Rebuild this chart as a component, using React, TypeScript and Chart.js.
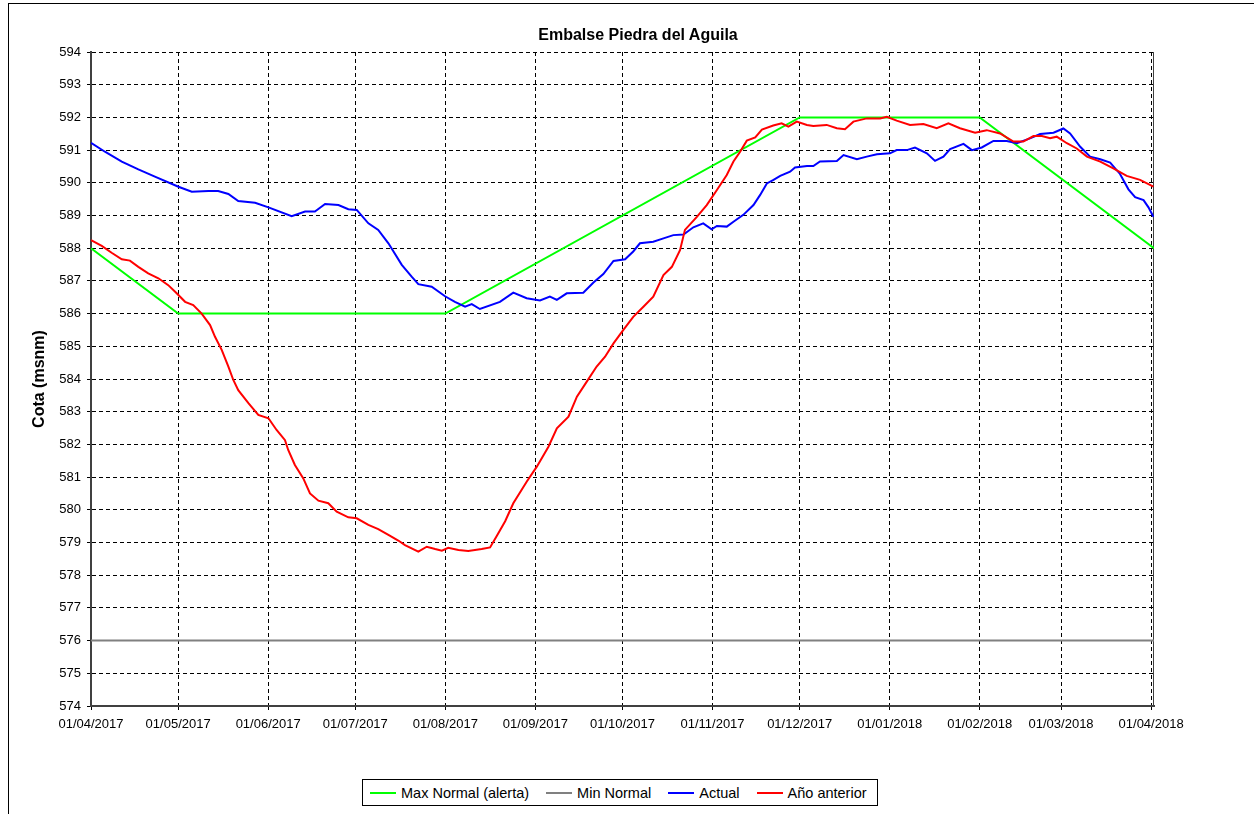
import React, { useEffect, useRef } from "react";
import { Chart, registerables } from "chart.js";

Chart.register(...registerables);

const FONT = '"Liberation Sans", Arial, Helvetica, sans-serif';

// Day index (0 = 01/04/2017) of each month tick and its label
const monthDays = [0, 30, 61, 91, 122, 153, 183, 214, 244, 275, 306, 334, 365];
const monthLabels = [
  "01/04/2017", "01/05/2017", "01/06/2017", "01/07/2017", "01/08/2017", "01/09/2017",
  "01/10/2017", "01/11/2017", "01/12/2017", "01/01/2018", "01/02/2018", "01/03/2018", "01/04/2018",
];

// Max Normal (alerta)
const maxNormalDays = [0, 30, 122, 244, 306, 366];
const maxNormalLevels = [588, 586, 586, 592, 592, 588];

// Min Normal
const minNormalDays = [0, 366];
const minNormalLevels = [576, 576];

// Actual
const actualDays = [
  0, 4.8, 10.6, 16.3, 22.0, 30.1, 34.7, 40.4, 43.8, 47.3, 50.7, 56.5, 61.1, 69.1, 73.7, 77.1, 80.6, 85.2,
  88.6, 91.5, 95.5, 98.9, 102.4, 107.0, 110.4, 112.7, 117.3, 121.9, 125.3, 128.8, 131.1, 133.9, 140.8,
  145.4, 150.0, 154.6, 158.0, 160.4, 163.8, 169.5, 173.0, 176.4, 179.9, 183.9, 186.7, 189.0, 193.6,
  197.1, 200.5, 204.0, 207.4, 210.8, 213.7, 215.5, 218.9, 221.2, 224.6, 228.1, 230.4, 232.7, 235.0,
  237.3, 240.7, 242.4, 246.5, 248.7, 251.0, 256.8, 259.1, 263.7, 267.1, 270.6, 275.1, 277.4, 280.9,
  283.7, 287.8, 290.6, 293.5, 295.8, 300.4, 303.3, 306.7, 310.7, 315.3, 318.8, 323.3, 326.8, 331.4,
  334.8, 337.1, 340.6, 344.0, 347.5, 350.9, 354.3, 357.2, 359.5, 362.4, 364.1, 365.8,
];
const actualLevels = [
  591.22, 590.95, 590.65, 590.41, 590.19, 589.88, 589.73, 589.75, 589.75, 589.66, 589.44, 589.39, 589.25,
  588.98, 589.12, 589.12, 589.35, 589.32, 589.19, 589.17, 588.76, 588.56, 588.15, 587.49, 587.13, 586.9,
  586.82, 586.53, 586.36, 586.21, 586.29, 586.14, 586.36, 586.64, 586.47, 586.4, 586.52, 586.42, 586.62,
  586.64, 586.95, 587.21, 587.61, 587.66, 587.9, 588.15, 588.2, 588.3, 588.4, 588.42, 588.64, 588.76,
  588.58, 588.68, 588.66, 588.81, 589.02, 589.32, 589.63, 589.98, 590.09, 590.21, 590.34, 590.47, 590.51,
  590.51, 590.65, 590.67, 590.85, 590.72, 590.8, 590.87, 590.9, 591.0, 591.0, 591.08, 590.9, 590.67,
  590.8, 591.03, 591.19, 591.0, 591.08, 591.28, 591.28, 591.21, 591.36, 591.49, 591.53, 591.66, 591.51,
  591.1, 590.8, 590.72, 590.62, 590.27, 589.8, 589.56, 589.47, 589.25, 588.96,
];

// Año anterior
const previousDays = [
  0, 3.7, 7.1, 10.6, 13.4, 16.3, 19.7, 23.2, 26.6, 29.5, 32.4, 35.2, 38.1, 41.0, 42.7, 45.0, 47.3, 49.0,
  50.7, 54.2, 57.6, 61.1, 63.9, 66.8, 67.9, 70.2, 73.1, 75.4, 78.3, 81.7, 84.6, 88.6, 91.5, 95.5, 98.9,
  102.4, 105.8, 108.1, 112.7, 115.6, 118.5, 120.8, 123.0, 126.5, 129.9, 134.5, 137.4, 139.7, 142.6,
  145.4, 150.0, 153.5, 157.5, 160.4, 164.4, 167.3, 170.7, 174.1, 177.0, 179.9, 183.3, 186.7, 190.2,
  193.6, 197.1, 200.0, 202.8, 204.5, 208.6, 212.0, 215.5, 218.9, 221.2, 223.5, 225.8, 228.7, 231.0,
  234.9, 237.8, 240.1, 243.0, 246.5, 248.7, 253.3, 256.8, 259.6, 262.5, 267.1, 271.7, 274.0, 277.4,
  282.0, 286.6, 291.2, 295.2, 299.2, 304.4, 308.4, 313.0, 317.6, 321.0, 324.5, 327.4, 330.2, 332.5,
  336.0, 339.4, 342.9, 347.5, 352.0, 356.6, 361.2, 365.8,
];
const previousLevels = [
  588.25, 588.07, 587.86, 587.66, 587.62, 587.43, 587.23, 587.08, 586.87, 586.62, 586.36, 586.26, 586.0,
  585.65, 585.29, 584.89, 584.38, 583.97, 583.66, 583.26, 582.9, 582.8, 582.44, 582.13, 581.83, 581.37,
  580.96, 580.5, 580.28, 580.2, 579.94, 579.77, 579.74, 579.54, 579.41, 579.23, 579.06, 578.92, 578.72,
  578.87, 578.8, 578.75, 578.84, 578.77, 578.74, 578.8, 578.85, 579.2, 579.65, 580.2, 580.86, 581.32,
  581.93, 582.49, 582.85, 583.46, 583.92, 584.38, 584.68, 585.09, 585.5, 585.9, 586.21, 586.52, 587.18,
  587.43, 587.94, 588.56, 588.96, 589.32, 589.78, 590.24, 590.65, 590.95, 591.29, 591.39, 591.63, 591.75,
  591.82, 591.72, 591.87, 591.77, 591.74, 591.77, 591.67, 591.64, 591.87, 591.97, 591.97, 592.02, 591.9,
  591.77, 591.8, 591.67, 591.82, 591.67, 591.53, 591.61, 591.51, 591.26, 591.26, 591.43, 591.43, 591.36,
  591.41, 591.21, 591.05, 590.8, 590.65, 590.44, 590.21, 590.09, 589.88,
];

const yTickMin = 574;
const yTickMax = 594;

const seriesNames = ["Max Normal (alerta)", "Min Normal", "Actual", "Año anterior"];
const seriesColors = ["#00ff00", "#808080", "#0000ff", "#ff0000"];

const toPoints = (days: number[], vals: number[]) => days.map((d, i) => ({ x: d, y: vals[i] }));

const rightBorder = {
  id: "rightBorder",
  beforeDatasetsDraw(chart: any) {
    const { ctx, chartArea } = chart;
    ctx.save();
    ctx.strokeStyle = "#404040";
    ctx.lineWidth = 1;
    ctx.beginPath();
    ctx.moveTo(chartArea.right - 0.5, chartArea.top);
    ctx.lineTo(chartArea.right - 0.5, chartArea.bottom);
    ctx.stroke();
    ctx.restore();
  },
};

export default function App() {
  const canvasRef = useRef<HTMLCanvasElement | null>(null);

  useEffect(() => {
    if (!canvasRef.current) return;
    Chart.defaults.font.family = FONT;
    const gridOpts = { color: "#000000", lineWidth: 1, tickLength: 4, tickColor: "#000000" };
    const borderOpts = { display: true, color: "#404040", width: 2, dash: [4, 3] };
    const chart = new Chart(canvasRef.current, {
      type: "line",
      data: {
        datasets: [
          { label: seriesNames[0], data: toPoints(maxNormalDays, maxNormalLevels), borderColor: seriesColors[0], backgroundColor: seriesColors[0], borderWidth: 2, order: 3 },
          { label: seriesNames[1], data: toPoints(minNormalDays, minNormalLevels), borderColor: seriesColors[1], backgroundColor: seriesColors[1], borderWidth: 2, order: 2 },
          { label: seriesNames[2], data: toPoints(actualDays, actualLevels), borderColor: seriesColors[2], backgroundColor: seriesColors[2], borderWidth: 2, order: 1 },
          { label: seriesNames[3], data: toPoints(previousDays, previousLevels), borderColor: seriesColors[3], backgroundColor: seriesColors[3], borderWidth: 2, order: 0 },
        ],
      },
      options: {
        animation: false,
        responsive: false,
        maintainAspectRatio: false,
        layout: { padding: { left: 0, right: 100, top: 52, bottom: 78 } },
        elements: { point: { radius: 0 }, line: { tension: 0 } },
        plugins: { legend: { display: false }, title: { display: false }, tooltip: { enabled: false } },
        scales: {
          x: {
            type: "linear",
            min: 0,
            max: 366,
            afterFit: (s: any) => { s.height = 30; },
            afterBuildTicks: (s: any) => { s.ticks = monthDays.map((v) => ({ value: v })); },
            grid: gridOpts,
            border: borderOpts,
            ticks: {
              color: "#000000",
              font: { size: 13 },
              padding: 7,
              maxRotation: 0,
              autoSkip: false,
              callback: (_v: any, i: number) => monthLabels[i],
            },
          },
          y: {
            min: yTickMin,
            max: yTickMax,
            afterFit: (s: any) => { s.width = 91; },
            grid: gridOpts,
            border: borderOpts,
            ticks: { stepSize: 1, color: "#000000", font: { size: 13 }, padding: 6 },
            title: {
              display: true,
              text: "Cota (msnm)",
              color: "#000000",
              font: { size: 16, weight: "bold" },
              padding: { top: 30, bottom: 0 },
            },
          },
        },
      },
      plugins: [rightBorder],
    } as any);
    return () => chart.destroy();
  }, []);

  return (
    <div style={{ position: "fixed", left: 0, top: 0, width: 1254, height: 814, overflow: "hidden", background: "#fff", fontFamily: FONT }}>
      <div style={{ position: "absolute", left: 8, top: 3, width: 1246, height: 811, borderLeft: "1px solid #000", borderTop: "1px solid #000", boxSizing: "border-box" }} />
      <canvas ref={canvasRef} width={1254} height={814} style={{ position: "absolute", left: 0, top: 0, width: 1254, height: 814 }} />
      <div style={{ position: "absolute", left: 438, top: 25, width: 400, textAlign: "center", fontSize: 16, lineHeight: "19px", fontWeight: "bold", color: "#000" }}>
        Embalse Piedra del Aguila
      </div>
      <div style={{ position: "absolute", left: 362, top: 779, height: 27, boxSizing: "border-box", border: "1px solid #000", display: "flex", alignItems: "center", padding: "0 10px 0 7px", fontSize: 14.5, color: "#000", background: "#fff", whiteSpace: "nowrap" }}>
        {seriesNames.map((n, i) => (
          <div key={n} style={{ display: "flex", alignItems: "center", marginRight: i < seriesNames.length - 1 ? 17 : 0 }}>
            <div style={{ width: 26, height: 2, background: seriesColors[i], marginRight: 5 }} />
            <span>{n}</span>
          </div>
        ))}
      </div>
    </div>
  );
}
